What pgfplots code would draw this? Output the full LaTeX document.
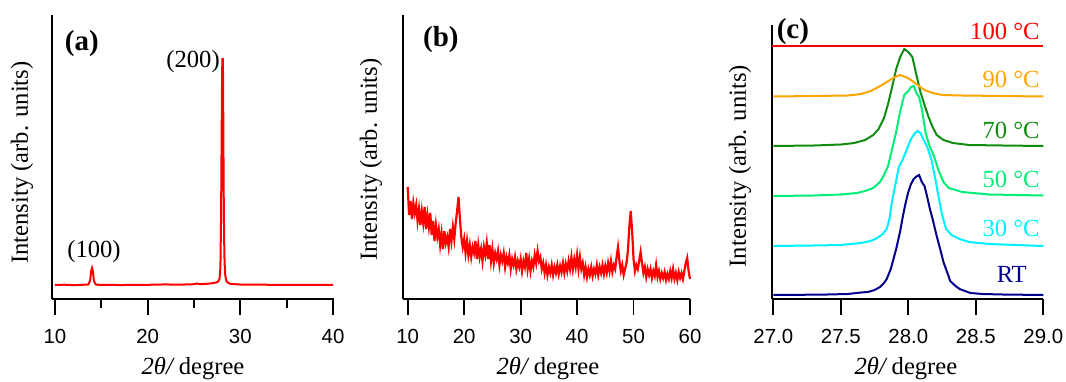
\documentclass[border=0pt]{standalone}
\usepackage{fontspec}
\setmainfont{Liberation Serif}
\setsansfont{Liberation Sans}
\usepackage{pgfplots}
\pgfplotsset{compat=1.18}
\definecolor{cRT}{RGB}{0,0,139}
\definecolor{c30}{RGB}{0,240,255}
\definecolor{c50}{RGB}{0,238,118}
\definecolor{c70}{RGB}{16,140,16}
\definecolor{c90}{RGB}{255,165,0}
\definecolor{c100}{RGB}{255,0,0}
\pgfplotsset{
  myax/.style={
    scale only axis,
    anchor=south west,
    axis x line*=bottom,
    axis y line*=left,
    axis line style={line width=0.9pt,-},
    ytick=\empty,
    ymin=0,
    tick align=outside,
    major tick length=8pt,
    minor tick length=4.5pt,
    every tick/.style={line width=0.9pt,black},
    /pgf/number format/assume math mode=true,
    xticklabel style={font=\sffamily\fontsize{10.2}{12}\selectfont,yshift=-3.5pt},
    label style={font=\fontsize{12.3}{14}\selectfont},
    xlabel={\textit{2θ/}\,degree},
    ylabel={Intensity (arb. units)},
    clip=false,
  }
}
\begin{document}
\begin{tikzpicture}
\useasboundingbox (0,0) rectangle (533pt,190.5pt);
% ---------------- (a)
\begin{axis}[myax,
  at={(26pt,41pt)}, width=141pt, height=142pt,
  xmin=9.676, xmax=40.108, ymax=284,
  xtick={10,20,30,40}, minor xtick={15,25,35},
  xlabel style={at={(axis description cs:0.5,-0.245)},anchor=center},
  ylabel style={at={(axis description cs:-0.106,0.48)},anchor=center},
]
\addplot[c100, line width=1pt] coordinates {
(10,14) (11,14.3) (12,13.8) (13,14.2) (13.6,14.5) (13.8,19) (13.9,28) (14.0,31) (14.1,27) (14.2,18) (14.4,14.5)
(15,14) (16,14.2) (17,13.9) (18,14.1) (19,14) (20,14.2) (21,14.4) (22,14.6) (23,14.3) (24,14.5) (25,14.8)
(25.3,15.5) (25.6,14.8) (26,15) (26.5,15.3) (27,15.8) (27.4,16.5) (27.6,17.5) (27.75,20) (27.85,31)
(27.92,81) (27.98,161) (28.03,226) (28.07,240) (28.12,240) (28.16,181) (28.2,111) (28.25,61) (28.3,36)
(28.38,23) (28.5,18) (28.7,16) (29,15) (30,14.5) (32,14.3) (34,14.2) (36,14.2) (38,14.1) (40,14.2)
};
\node[font=\bfseries\fontsize{14.5}{16}\selectfont] at (axis description cs:0.106,0.901) {(a)};
\node[font=\fontsize{12.3}{14}\selectfont] at (axis cs:24.9,237) {(200)};
\node[font=\fontsize{12.3}{14}\selectfont] at (axis cs:14.21,47) {(100)};
\end{axis}
% ---------------- (b)
\begin{axis}[myax,
  at={(201.5pt,41pt)}, width=143.5pt, height=142pt,
  xmin=9.17, xmax=60, ymax=284,
  xtick={10,20,30,40,50,60},
  xlabel style={at={(axis description cs:0.505,-0.245)},anchor=center},
  ylabel style={at={(axis description cs:-0.1115,0.491)},anchor=center},
]
\addplot[c100, line width=1.1pt] coordinates {
(10.00,112) (10.25,84) (10.50,98) (10.75,80) (11.00,96) (11.25,86) (11.50,94) (11.75,78) (12.00,90) (12.25,74)
(12.50,88) (12.75,76) (13.00,92) (13.25,70) (13.50,84) (13.75,72) (14.00,86) (14.25,64) (14.50,78) (14.75,58)
(15.00,74) (15.25,62) (15.50,70) (15.75,54) (16.00,66) (16.25,50) (16.50,68) (16.75,56) (17.00,62) (17.25,52)
(17.50,70) (17.75,58) (18.00,72) (18.25,60) (18.50,76) (18.75,88) (19.00,102) (19.25,80) (19.50,62) (19.75,52)
(20.00,60) (20.25,46) (20.50,58) (20.75,44) (21.00,54) (21.25,42) (21.50,52) (21.75,46) (22.00,58) (22.25,40)
(22.50,54) (22.75,42) (23.00,50) (23.25,38) (23.50,52) (23.75,44) (24.00,56) (24.25,40) (24.50,54) (24.75,38)
(25.00,50) (25.25,36) (25.50,46) (25.75,40) (26.00,48) (26.25,34) (26.50,44) (26.75,38) (27.00,46) (27.25,32)
(27.50,42) (27.75,36) (28.00,44) (28.25,30) (28.50,40) (28.75,34) (29.00,42) (29.25,30) (29.50,38) (29.75,32)
(30.00,40) (30.25,28) (30.50,38) (30.75,32) (31.00,46) (31.25,30) (31.50,40) (31.75,28) (32.00,38) (32.25,32)
(32.50,44) (32.75,36) (33.00,48) (33.25,38) (33.50,42) (33.75,30) (34.00,36) (34.25,26) (34.50,34) (34.75,24)
(35.00,32) (35.25,26) (35.50,34) (35.75,24) (36.00,32) (36.25,26) (36.50,34) (36.75,25) (37.00,33) (37.25,27)
(37.50,36) (37.75,26) (38.00,35) (38.25,28) (38.50,38) (38.75,30) (39.00,42) (39.25,30) (39.50,40) (39.75,32)
(40.00,44) (40.25,30) (40.50,42) (40.75,30) (41.00,36) (41.25,24) (41.50,32) (41.75,22) (42.00,30) (42.25,24)
(42.50,32) (42.75,23) (43.00,30) (43.25,25) (43.50,34) (43.75,24) (44.00,32) (44.25,26) (44.50,34) (44.75,25)
(45.00,33) (45.25,26) (45.50,36) (45.75,28) (46.00,38) (46.25,27) (46.50,34) (46.75,30) (47.00,42) (47.25,52)
(47.50,38) (47.75,28) (48.00,34) (48.25,24) (48.50,30) (48.75,36) (49.00,48) (49.25,72) (49.50,88) (49.75,68)
(50.00,40) (50.25,28) (50.50,34) (50.75,30) (51.00,38) (51.25,47) (51.50,36) (51.75,26) (52.00,32) (52.25,22)
(52.50,30) (52.75,24) (53.00,30) (53.25,21) (53.50,28) (53.75,23) (54.00,34) (54.25,22) (54.50,28) (54.75,20)
(55.00,26) (55.25,21) (55.50,27) (55.75,19) (56.00,25) (56.25,20) (56.50,28) (56.75,21) (57.00,30) (57.25,20)
(57.50,26) (57.75,19) (58.00,27) (58.25,21) (58.50,26) (58.75,20) (59.00,28) (59.25,36) (59.50,41) (59.75,28)
(60.00,20)
};
\node[font=\bfseries\fontsize{14.5}{16}\selectfont] at (axis description cs:0.132,0.912) {(b)};
\end{axis}
% ---------------- (c)
\begin{axis}[myax,
  at={(385.85pt,41pt)}, width=135.8pt, height=137pt,
  xmin=26.988, xmax=29.0, ymax=274,
  xtick={27,27.5,28,28.5,29},
  xticklabel={\pgfmathprintnumber[fixed,fixed zerofill,precision=1]{\tick}},
  xlabel style={at={(axis description cs:0.494,-0.254)},anchor=center},
  ylabel style={at={(axis description cs:-0.117,0.485)},anchor=center},
]
\addplot[cRT, line width=1pt] coordinates {
(27.00,4) (27.20,4.2) (27.40,4.5) (27.55,5) (27.65,6.5) (27.70,7) (27.75,9) (27.79,12) (27.82,16) (27.84,20)
(27.87,30) (27.89,40) (27.91,50) (27.94,68) (27.96,83) (27.98,96) (28.00,107) (28.02,115) (28.04,120) (28.06,122.5)
(28.08,124) (28.10,117) (28.12,113) (28.14,102) (28.16,90) (28.18,80) (28.21,63) (28.24,48) (28.26,37) (28.29,26)
(28.31,18) (28.35,13) (28.38,10) (28.42,8) (28.46,6) (28.55,5) (28.70,4.5) (29.00,4)
};
\addplot[c30, line width=1pt] coordinates {
(27.00,53) (27.30,53.5) (27.50,54) (27.65,56) (27.72,58) (27.77,61) (27.81,65) (27.84,70) (27.86,80) (27.88,98)
(27.90,112) (27.93,132) (27.96,140) (27.99,150) (28.02,160) (28.05,166) (28.07,168) (28.09,166) (28.11,160) (28.14,152)
(28.17,140) (28.20,120) (28.23,98) (28.25,84) (28.28,70) (28.32,64) (28.38,60) (28.45,57) (28.60,55) (28.80,54) (29.00,53)
};
\addplot[c50, line width=1pt] coordinates {
(27.00,103) (27.30,103.5) (27.50,104.5) (27.62,106) (27.68,108) (27.74,111) (27.79,117) (27.82,124) (27.85,133) (27.88,150)
(27.91,167) (27.94,188) (27.97,204) (28.00,208) (28.02,212) (28.04,213) (28.06,206) (28.08,202) (28.10,190) (28.13,165)
(28.16,152) (28.19,143) (28.22,130) (28.26,117) (28.30,111) (28.40,107) (28.60,104.5) (29.00,103.5)
};
\addplot[c70, line width=1pt] coordinates {
(27.00,153) (27.30,153.5) (27.50,154.5) (27.60,156) (27.68,159) (27.74,164) (27.78,170) (27.82,181) (27.85,195) (27.88,212)
(27.91,230) (27.94,242) (27.97,250) (28.00,247) (28.03,242) (28.06,224) (28.09,207) (28.12,194) (28.15,182) (28.18,172)
(28.21,164) (28.26,159) (28.33,156) (28.45,154) (28.70,153.5) (29.00,153)
};
\addplot[c90, line width=1pt] coordinates {
(27.00,202.5) (27.30,203) (27.55,203.5) (27.65,205) (27.72,208) (27.78,212) (27.84,217) (27.90,222) (27.94,224) (27.98,222)
(28.02,219) (28.07,214) (28.12,209) (28.18,206) (28.25,204) (28.40,203.5) (28.70,203) (29.00,202.5)
};
\addplot[c100, line width=1pt] coordinates {(26.988,252.7) (29.0,252.7)};
\node[font=\bfseries\fontsize{14.5}{16}\selectfont] at (axis description cs:0.078,0.975) {(c)};
\begin{scope}[every node/.style={anchor=east,inner sep=0pt,font=\fontsize{12.3}{14}\selectfont}]
\node[text=c100] at (axis cs:28.975,268) {100 °C};
\node[text=c90] at (axis cs:28.975,220) {90 °C};
\node[text=c70] at (axis cs:28.975,169) {70 °C};
\node[text=c50] at (axis cs:28.975,120) {50 °C};
\node[text=c30] at (axis cs:28.975,71) {30 °C};
\node[text=cRT] at (axis cs:28.88,25) {RT};
\end{scope}
\end{axis}
\end{tikzpicture}
\end{document}
